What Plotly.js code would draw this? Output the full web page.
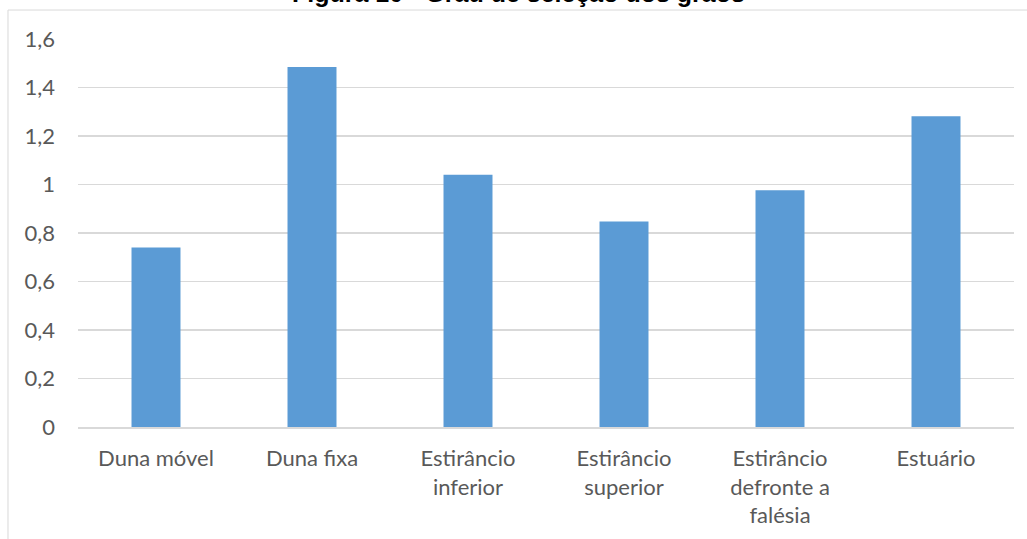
<!DOCTYPE html>
<html>
<head>
<meta charset="utf-8">
<script src="https://cdn.plot.ly/plotly-3.0.1.min.js"></script>
<style>
html,body{margin:0;padding:0;background:#fff;}
#chart{width:1027px;height:539px;}
</style>
</head>
<body>
<div id="chart"></div>
<script>
var titleText = "Figura 10 - Grau de seleção dos grãos";
var categories = ["Duna móvel", "Duna fixa", "Estirâncio<br>inferior", "Estirâncio<br>superior", "Estirâncio<br>defronte a<br>falésia", "Estuário"];
var values = [0.74, 1.485, 1.04, 0.847, 0.976, 1.281];
var yTicks = [0, 0.2, 0.4, 0.6, 0.8, 1, 1.2, 1.4, 1.6];

var font = "Lato, 'Open Sans', sans-serif";
var trace = {
  type: "bar",
  x: categories,
  y: values,
  marker: {color: "#5b9bd5", line: {width: 0}},
  hoverinfo: "x+y"
};
var layout = {
  width: 1027, height: 539,
  margin: {l: 78, r: 13, t: 39, b: 112},
  paper_bgcolor: "#ffffff",
  plot_bgcolor: "#ffffff",
  separators: ",.",
  bargap: 0.686,
  showlegend: false,
  xaxis: {
    type: "category",
    showgrid: false,
    showline: true, linecolor: "#d9d9d9", linewidth: 1.5,
    ticks: "",
    tickfont: {family: font, size: 22, color: "#595959"},
    ticklabelstandoff: 11,
    fixedrange: true
  },
  yaxis: {
    range: [0, 1.6],
    tickvals: yTicks,
    showgrid: true, gridcolor: "#d9d9d9", gridwidth: 1.5,
    zeroline: false,
    showline: false,
    ticks: "",
    tickfont: {family: font, size: 22, color: "#595959"},
    ticklabelstandoff: 22,
    fixedrange: true
  },
  annotations: [{
    text: "<b>" + titleText + "</b>",
    font: {family: "Liberation Sans, Arial, sans-serif", size: 25, color: "#000000"},
    xref: "paper", yref: "paper",
    x: 0.471, xanchor: "center",
    y: 1.0786, yanchor: "bottom",
    showarrow: false
  }],
  shapes: [{
    type: "rect", xref: "paper", yref: "paper",
    x0: -0.0748, x1: 1.2, y0: -0.5, y1: 1.0747,
    line: {color: "#d9d9d9", width: 1},
    fillcolor: "rgba(0,0,0,0)",
    layer: "below"
  }]
};
Plotly.newPlot("chart", [trace], layout, {displayModeBar: false, staticPlot: true});
</script>
</body>
</html>
